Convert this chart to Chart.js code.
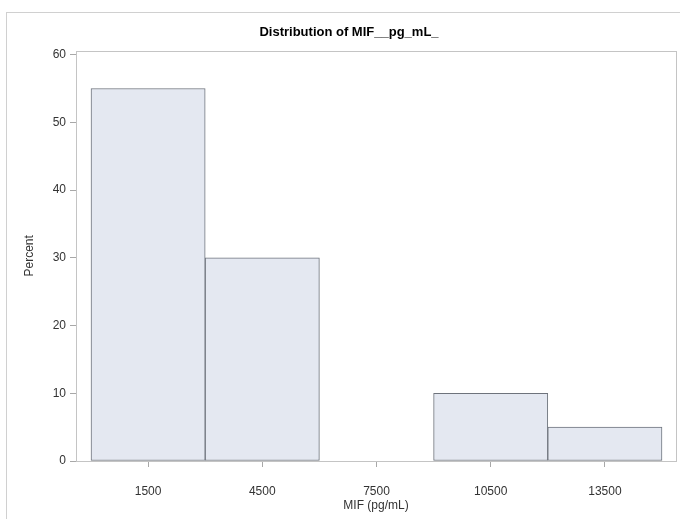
<!DOCTYPE html>
<html>
<head>
<meta charset="utf-8">
<script src="https://cdn.jsdelivr.net/npm/chart.js@4"></script>
<style>
  body { margin: 0; background: #fff; }
  #wrap { position: relative; width: 680px; height: 519px; }
  #frame { position: absolute; left: 6px; top: 12px; width: 700px; height: 540px; border: 1px solid #d0d0d0; }
  canvas { position: absolute; left: 0; top: 0; }
</style>
</head>
<body>
<div id="wrap">
  <div id="frame"></div>
  <canvas id="hist" width="680" height="519"></canvas>
</div>
<script>
// histogram bins (midpoints) and percent per bin
var binMidpoints = [1500, 4500, 7500, 10500, 13500];
var percents = [55, 30, 0, 10, 5];
var yTicks = [0, 10, 20, 30, 40, 50, 60];

var chartTitle = "Distribution of MIF__pg_mL_";
var xTitle = "MIF (pg/mL)";
var yTitle = "Percent";

// draws the light box round the plot area
var plotFrame = {
  id: "plotFrame",
  afterDraw: function(chart) {
    var a = chart.chartArea, ctx = chart.ctx;
    ctx.save();
    ctx.strokeStyle = "#c4c4c4";
    ctx.lineWidth = 1;
    ctx.strokeRect(Math.round(a.left) + 0.5, Math.round(a.top) + 0.5,
      Math.round(a.right - a.left), Math.round(a.bottom - a.top));
    ctx.restore();
  }
};

var font = "'Liberation Sans', Arial, sans-serif";

new Chart(document.getElementById("hist"), {
  type: "bar",
  data: {
    datasets: [{
      data: binMidpoints.map(function(x, i) { return { x: x, y: percents[i] }; }),
      backgroundColor: "#e4e8f1",
      borderColor: "#6e737c",
      borderWidth: 1,
      borderSkipped: false,
      barPercentage: 1,
      categoryPercentage: 1
    }]
  },
  options: {
    responsive: false,
    animation: false,
    layout: { padding: { left: 22, right: 4, top: 0, bottom: 0 } },
    plugins: {
      legend: { display: false },
      tooltip: { enabled: false },
      title: {
        display: true,
        text: chartTitle,
        color: "#000",
        font: { family: font, size: 13, weight: "bold" },
        padding: { top: 25, bottom: 10 }
      }
    },
    scales: {
      x: {
        type: "linear",
        offset: false,
        min: -394,
        max: 15368,
        afterBuildTicks: function(s) { s.ticks = binMidpoints.map(function(v) { return { value: v }; }); },
        afterFit: function(s) { s.height = 58; },
        grid: { offset: false, drawOnChartArea: false, drawTicks: true, tickLength: 6, color: "#a8a8a8" },
        border: { display: false },
        ticks: {
          color: "#333", font: { family: font, size: 12 }, padding: 17,
          callback: function(v) { return String(v); }
        },
        title: { display: true, text: xTitle, color: "#333", font: { family: font, size: 12 }, padding: { top: 2, bottom: 6 } }
      },
      y: {
        min: 0,
        max: 60.6,
        afterBuildTicks: function(s) { s.ticks = yTicks.map(function(v) { return { value: v }; }); },
        afterFit: function(s) { s.width = 54; },
        grid: { drawOnChartArea: false, drawTicks: true, tickLength: 6, color: "#a8a8a8" },
        border: { display: false },
        ticks: { color: "#333", font: { family: font, size: 12 }, padding: 4 },
        title: { display: true, text: yTitle, color: "#333", font: { family: font, size: 12 }, padding: { top: 0, bottom: 4 } }
      }
    }
  },
  plugins: [plotFrame]
});
</script>
</body>
</html>
